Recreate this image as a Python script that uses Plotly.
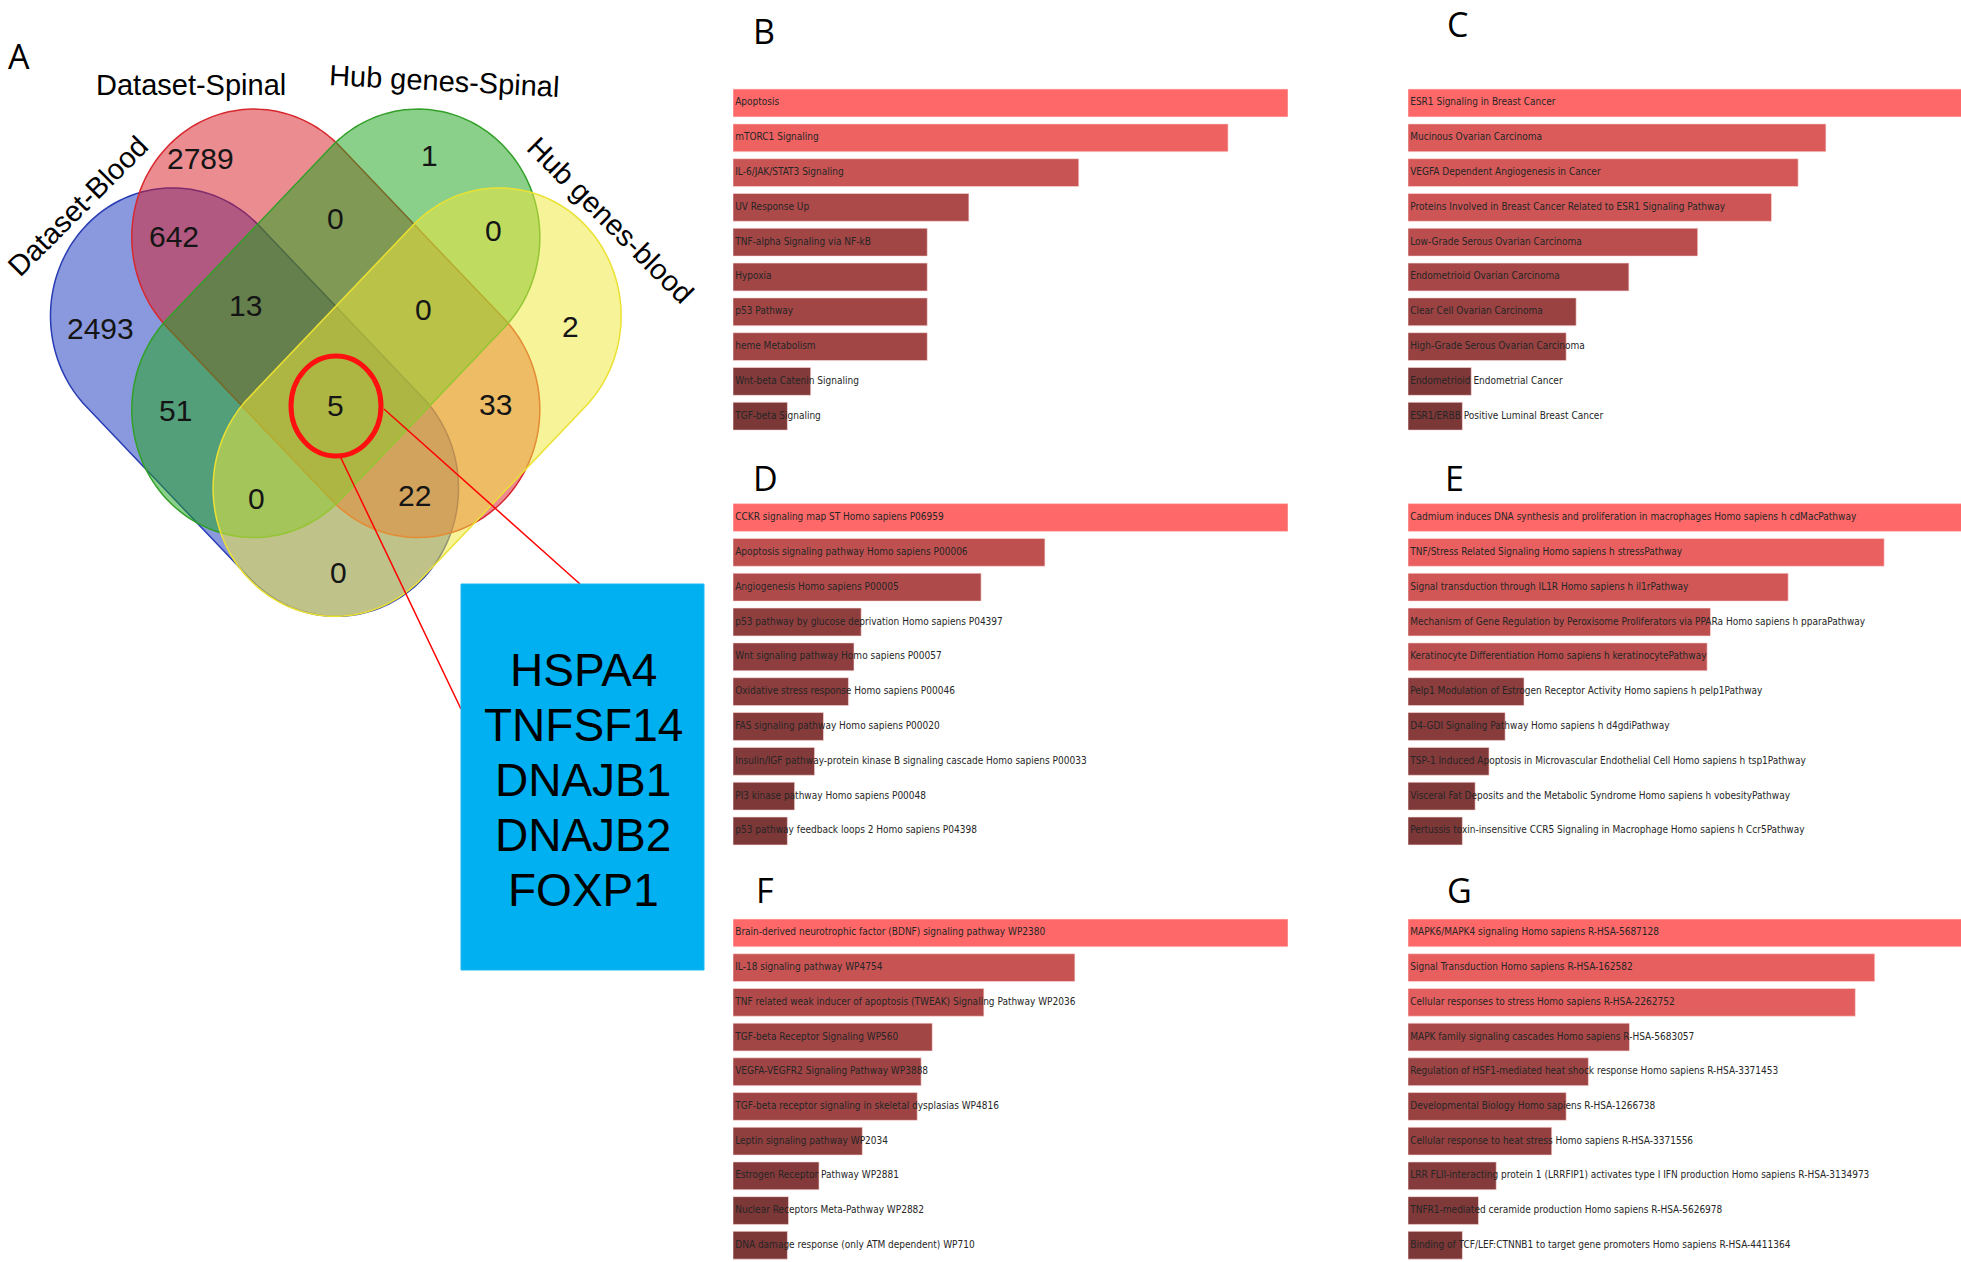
import numpy as np
import plotly.graph_objects as go

W, H = 1961, 1262

# ---------------- data ----------------
venn_sets = ["Dataset-Blood", "Dataset-Spinal", "Hub genes-Spinal", "Hub genes-blood"]
venn_counts = [2789, 1, 642, 0, 0, 2493, 13, 0, 2, 51, 5, 33, 0, 22, 0]
hub_genes = ["HSPA4", "TNFSF14", "DNAJB1", "DNAJB2", "FOXP1"]

b_terms = ["Apoptosis", "mTORC1 Signaling", "IL-6/JAK/STAT3 Signaling", "UV Response Up",
           "TNF-alpha Signaling via NF-kB", "Hypoxia", "p53 Pathway", "heme Metabolism",
           "Wnt-beta Catenin Signaling", "TGF-beta Signaling"]
b_scores = [1.0, 0.892, 0.623, 0.425, 0.35, 0.35, 0.35, 0.35, 0.14, 0.098]

c_terms = ["ESR1 Signaling in Breast Cancer", "Mucinous Ovarian Carcinoma",
           "VEGFA Dependent Angiogenesis in Cancer",
           "Proteins Involved in Breast Cancer Related to ESR1 Signaling Pathway",
           "Low-Grade Serous Ovarian Carcinoma", "Endometrioid Ovarian Carcinoma",
           "Clear Cell Ovarian Carcinoma", "High-Grade Serous Ovarian Carcinoma",
           "Endometrioid Endometrial Cancer", "ESR1/ERBB Positive Luminal Breast Cancer"]
c_scores = [1.0, 0.753, 0.703, 0.655, 0.522, 0.398, 0.303, 0.285, 0.114, 0.098]

d_terms = ["CCKR signaling map ST Homo sapiens P06959",
           "Apoptosis signaling pathway Homo sapiens P00006",
           "Angiogenesis Homo sapiens P00005",
           "p53 pathway by glucose deprivation Homo sapiens P04397",
           "Wnt signaling pathway Homo sapiens P00057",
           "Oxidative stress response Homo sapiens P00046",
           "FAS signaling pathway Homo sapiens P00020",
           "Insulin/IGF pathway-protein kinase B signaling cascade Homo sapiens P00033",
           "PI3 kinase pathway Homo sapiens P00048",
           "p53 pathway feedback loops 2 Homo sapiens P04398"]
d_scores = [1.0, 0.562, 0.447, 0.231, 0.218, 0.208, 0.163, 0.147, 0.111, 0.098]

e_terms = ["Cadmium induces DNA synthesis and proliferation in macrophages Homo sapiens h cdMacPathway",
           "TNF/Stress Related Signaling Homo sapiens h stressPathway",
           "Signal transduction through IL1R Homo sapiens h il1rPathway",
           "Mechanism of Gene Regulation by Peroxisome Proliferators via PPARa Homo sapiens h pparaPathway",
           "Keratinocyte Differentiation Homo sapiens h keratinocytePathway",
           "Pelp1 Modulation of Estrogen Receptor Activity Homo sapiens h pelp1Pathway",
           "D4-GDI Signaling Pathway Homo sapiens h d4gdiPathway",
           "TSP-1 Induced Apoptosis in Microvascular Endothelial Cell Homo sapiens h tsp1Pathway",
           "Visceral Fat Deposits and the Metabolic Syndrome Homo sapiens h vobesityPathway",
           "Pertussis toxin-insensitive CCR5 Signaling in Macrophage Homo sapiens h Ccr5Pathway"]
e_scores = [1.0, 0.858, 0.685, 0.545, 0.539, 0.209, 0.175, 0.146, 0.121, 0.098]

f_terms = ["Brain-derived neurotrophic factor (BDNF) signaling pathway WP2380",
           "IL-18 signaling pathway WP4754",
           "TNF related weak inducer of apoptosis (TWEAK) Signaling Pathway WP2036",
           "TGF-beta Receptor Signaling WP560",
           "VEGFA-VEGFR2 Signaling Pathway WP3888",
           "TGF-beta receptor signaling in skeletal dysplasias WP4816",
           "Leptin signaling pathway WP2034",
           "Estrogen Receptor Pathway WP2881",
           "Nuclear Receptors Meta-Pathway WP2882",
           "DNA damage response (only ATM dependent) WP710"]
f_scores = [1.0, 0.616, 0.452, 0.359, 0.339, 0.332, 0.233, 0.155, 0.100, 0.098]

g_terms = ["MAPK6/MAPK4 signaling Homo sapiens R-HSA-5687128",
           "Signal Transduction Homo sapiens R-HSA-162582",
           "Cellular responses to stress Homo sapiens R-HSA-2262752",
           "MAPK family signaling cascades Homo sapiens R-HSA-5683057",
           "Regulation of HSF1-mediated heat shock response Homo sapiens R-HSA-3371453",
           "Developmental Biology Homo sapiens R-HSA-1266738",
           "Cellular response to heat stress Homo sapiens R-HSA-3371556",
           "LRR FLII-interacting protein 1 (LRRFIP1) activates type I IFN production Homo sapiens R-HSA-3134973",
           "TNFR1-mediated ceramide production Homo sapiens R-HSA-5626978",
           "Binding of TCF/LEF:CTNNB1 to target gene promoters Homo sapiens R-HSA-4411364"]
g_scores = [1.0, 0.841, 0.806, 0.399, 0.325, 0.285, 0.259, 0.159, 0.127, 0.098]

panel_letters = ["B", "C", "D", "E", "F", "G"]

# ---------------- layout helpers ----------------
def px(x):
    return x / W

def py(y):
    return 1 - y / H

def bar_color(v):
    lo = np.array([110, 50, 50])
    hi = np.array([255, 104, 104])
    c = lo + (hi - lo) * v
    return "rgb(%d,%d,%d)" % tuple(c.round().astype(int))

fig = go.Figure()
shapes = []
annotations = []

# ---------------- bar panels ----------------
BAR_LEN = 555.0
panels = [
    (b_terms, b_scores, 733, 85.6, 34.8, (764, 31)),
    (c_terms, c_scores, 1408, 85.6, 34.8, (1457, 24)),
    (d_terms, d_scores, 733, 500.1, 34.83, (765, 478)),
    (e_terms, e_scores, 1408, 500.1, 34.83, (1454, 478)),
    (f_terms, f_scores, 733, 915.6, 34.7, (765, 890)),
    (g_terms, g_scores, 1408, 915.6, 34.7, (1459, 890)),
]

text_font = dict(family="Liberation Sans Narrow, Arial Narrow, DejaVu Sans Condensed, sans-serif",
                 size=10, color="#262626")

for i, (terms, scores, x0, top, pitch, lab) in enumerate(panels):
    k = "" if i == 0 else str(i + 1)
    xa, ya = "x" + k, "y" + k
    x1 = min(x0 + BAR_LEN, W)
    bottom = min(top + 10 * pitch, H)
    fig.add_trace(go.Bar(
        x=scores, y=terms, orientation="h", width=0.8,
        marker=dict(color=[bar_color(v) for v in scores],
                    line=dict(color="rgba(255,220,220,0.6)", width=1)),
        xaxis=xa, yaxis=ya, hoverinfo="x+y", showlegend=False))
    fig.add_trace(go.Scatter(
        x=[0.004] * len(terms), y=terms, mode="text", text=terms,
        textposition="middle right", textfont=text_font,
        xaxis=xa, yaxis=ya, cliponaxis=False, hoverinfo="skip", showlegend=False))
    fig.layout["xaxis" + k] = dict(domain=[px(x0), px(x1)], range=[0, (x1 - x0) / BAR_LEN],
                                   visible=False, anchor=ya, fixedrange=True)
    fig.layout["yaxis" + k] = dict(domain=[py(bottom), py(top)],
                                   range=[(bottom - top) / pitch - 0.5, -0.5],
                                   type="category", categoryarray=terms,
                                   visible=False, anchor=xa, fixedrange=True)
    annotations.append(dict(x=px(lab[0]), y=py(lab[1]), xref="paper", yref="paper",
                            text=panel_letters[i], showarrow=False,
                            font=dict(family="Open Sans, Liberation Sans", size=34, color="black"),
                            xanchor="center", yanchor="middle"))

# ---------------- Venn diagram (four stadium shapes) ----------------
def stadium_path(cx, cy, half_len, r, ang_deg, sy=1.05, n=80):
    th1 = np.linspace(-np.pi / 2, np.pi / 2, n)
    th2 = np.linspace(np.pi / 2, 3 * np.pi / 2, n)
    s = np.concatenate([half_len + r * np.cos(th1), -half_len + r * np.cos(th2)])
    p = np.concatenate([r * np.sin(th1), r * np.sin(th2)])
    ph = np.deg2rad(ang_deg)
    xs = cx + s * np.cos(ph) - p * np.sin(ph)
    ys = cy + sy * (s * np.sin(ph) + p * np.cos(ph))
    pts = ["%.5f,%.5f" % (px(x), py(y)) for x, y in zip(xs, ys)]
    return "M " + " L ".join(pts) + " Z"

HALF_LEN, RAD = 116, 122
ell = [  # cx, cy, angle, fill, line
    (254.5, 402.1, 45, "rgba(30,60,190,0.52)", "rgb(40,60,180)"),
    (335.8, 323.3, 45, "rgba(215,25,35,0.50)", "rgb(215,40,45)"),
    (335.8, 323.3, -45, "rgba(30,165,30,0.52)", "rgb(50,160,40)"),
    (417.1, 402.1, -45, "rgba(240,232,60,0.52)", "rgb(235,225,50)"),
]
for cx, cy, ang, fc, lc in ell:
    shapes.append(dict(type="path", xref="paper", yref="paper",
                       path=stadium_path(cx, cy, HALF_LEN, RAD, ang),
                       fillcolor=fc, line=dict(color=lc, width=1.5), layer="below"))

region_pos = [(200, 158), (429, 155), (174, 236), (335, 219), (493, 230), (100, 329),
              (245, 305), (423, 309), (570, 326), (175, 410), (335, 406), (495, 404),
              (256, 498), (414, 496), (338, 572)]
for cnt, (x, y) in zip(venn_counts, region_pos):
    annotations.append(dict(x=px(x), y=py(y), xref="paper", yref="paper", text=str(cnt),
                            showarrow=False, font=dict(family="Liberation Sans, Arial", size=30,
                                                       color="#151515"),
                            xanchor="center", yanchor="middle"))

set_label_pos = [(78, 206, -45), (191, 85, 0), (444, 81, 3), (610, 220, 45)]
for name, (x, y, ang) in zip(venn_sets, set_label_pos):
    annotations.append(dict(x=px(x), y=py(y), xref="paper", yref="paper", text=name,
                            showarrow=False, textangle=ang,
                            font=dict(family="Liberation Sans, Arial", size=29, color="black"),
                            xanchor="center", yanchor="middle"))

annotations.append(dict(x=px(19), y=py(56), xref="paper", yref="paper", text="A",
                        showarrow=False, font=dict(family="Open Sans, Liberation Sans", size=34,
                                                   color="black"),
                        xanchor="center", yanchor="middle"))

# connector lines + circle
shapes.append(dict(type="line", xref="paper", yref="paper", x0=px(340), y0=py(456),
                   x1=px(461), y1=py(709), line=dict(color="red", width=1.5)))
shapes.append(dict(type="line", xref="paper", yref="paper", x0=px(384), y0=py(409),
                   x1=px(580), y1=py(584), line=dict(color="red", width=1.5)))
shapes.append(dict(type="circle", xref="paper", yref="paper", x0=px(291), y0=py(356),
                   x1=px(381), y1=py(456), line=dict(color="#ff1010", width=5)))

# blue box with hub genes
shapes.append(dict(type="rect", xref="paper", yref="paper", x0=px(461), y0=py(584),
                   x1=px(704), y1=py(970), fillcolor="#00B0F0",
                   line=dict(color="#1ab8f2", width=1)))
for j, g in enumerate(hub_genes):
    annotations.append(dict(x=px(583), y=py(670 + 55 * j), xref="paper", yref="paper",
                            text=g, showarrow=False,
                            font=dict(family="Liberation Sans, Arial", size=46, color="black"),
                            xanchor="center", yanchor="middle"))

fig.update_layout(width=W, height=H, margin=dict(l=0, r=0, t=0, b=0),
                  paper_bgcolor="white", plot_bgcolor="rgba(0,0,0,0)",
                  shapes=shapes, annotations=annotations, bargap=0.2)

fig.write_html("out.html", config={"displayModeBar": False},
               post_script="document.body.style.margin='0';")
